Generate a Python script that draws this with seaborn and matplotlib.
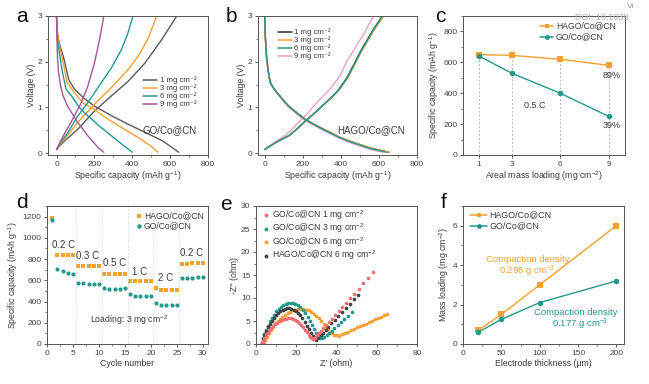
import numpy as np
import pandas as pd
import matplotlib
matplotlib.use("Agg")
import matplotlib.pyplot as plt
from matplotlib.ticker import AutoMinorLocator, MultipleLocator
import seaborn as sns

# ---------------- data ----------------
# panel a : GO/Co@CN charge / discharge (capacity mAh/g, voltage V)
a_loads = ["1 mg cm\u207b\u00b2", "3 mg cm\u207b\u00b2", "6 mg cm\u207b\u00b2", "9 mg cm\u207b\u00b2"]
a_dis_cap = [
    [0, 5, 15, 40, 65, 95, 145, 200, 290, 380, 470, 560, 645],
    [0, 5, 15, 35, 55, 90, 140, 200, 280, 360, 440, 500, 535],
    [0, 5, 15, 30, 50, 80, 120, 170, 230, 290, 350, 400],
    [0, 2, 5, 10, 20, 35, 58, 85, 112, 140, 165, 195, 220, 250],
]
a_dis_v = [
    [3.0, 2.6, 2.4, 2.05, 1.6, 1.4, 1.2, 1.03, 0.82, 0.63, 0.45, 0.27, 0.02],
    [3.0, 2.6, 2.35, 2.0, 1.55, 1.35, 1.1, 0.95, 0.72, 0.52, 0.32, 0.15, 0.02],
    [3.0, 2.5, 2.2, 1.8, 1.4, 1.25, 1.0, 0.8, 0.58, 0.38, 0.18, 0.02],
    [3.0, 2.5, 2.1, 1.8, 1.5, 1.25, 1.03, 0.85, 0.67, 0.52, 0.38, 0.24, 0.12, 0.02],
]
a_chg_cap = [
    [0, 20, 60, 112, 200, 289, 378, 467, 555, 635],
    [0, 20, 60, 112, 200, 289, 378, 431, 484, 529],
    [0, 20, 60, 112, 165, 236, 289, 342, 375, 404],
    [0, 20, 45, 76, 105, 130, 165, 200, 227, 250],
]
a_chg_v = [
    [0.08, 0.18, 0.33, 0.52, 0.92, 1.25, 1.57, 1.97, 2.48, 3.0],
    [0.08, 0.2, 0.4, 0.67, 1.07, 1.43, 1.83, 2.12, 2.51, 3.0],
    [0.08, 0.22, 0.45, 0.81, 1.1, 1.54, 1.86, 2.26, 2.6, 3.0],
    [0.08, 0.25, 0.45, 0.67, 0.9, 1.1, 1.46, 1.97, 2.48, 3.0],
]

# panel b : HAGO/Co@CN
b_dis_cap = [
    [0, 4, 10, 17, 24, 32, 50, 74, 100, 126, 170, 213, 260, 301, 350, 389, 430, 476, 520, 564, 610, 652],
    [0, 4, 10, 17, 24, 32, 50, 74, 100, 127, 171, 214, 261, 303, 352, 391, 432, 478, 522, 566, 612, 655],
    [0, 4, 10, 17, 24, 32, 50, 74, 100, 126, 169, 212, 258, 299, 347, 385, 425, 470, 513, 556, 600, 640],
    [0, 4, 10, 17, 24, 32, 50, 72, 97, 122, 165, 207, 253, 293, 340, 378, 418, 462, 505, 548, 590, 622],
]
b_dis_v = [
    [3.0, 2.5, 2.1, 1.85, 1.65, 1.52, 1.4, 1.28, 1.15, 1.03, 0.88, 0.74, 0.63, 0.54, 0.44, 0.36, 0.29, 0.22, 0.16, 0.1, 0.06, 0.02],
    [3.0, 2.5, 2.1, 1.85, 1.65, 1.52, 1.4, 1.28, 1.15, 1.03, 0.88, 0.74, 0.63, 0.54, 0.44, 0.36, 0.29, 0.22, 0.16, 0.1, 0.06, 0.02],
    [3.0, 2.5, 2.1, 1.85, 1.65, 1.52, 1.4, 1.28, 1.15, 1.03, 0.88, 0.74, 0.63, 0.54, 0.44, 0.36, 0.29, 0.22, 0.16, 0.1, 0.06, 0.02],
    [3.0, 2.5, 2.1, 1.85, 1.65, 1.52, 1.4, 1.27, 1.14, 1.02, 0.87, 0.73, 0.62, 0.53, 0.43, 0.35, 0.28, 0.21, 0.15, 0.09, 0.05, 0.02],
]
b_chg_cap = [
    [0, 30, 70, 126, 170, 213, 260, 301, 350, 389, 432, 476, 500, 529, 570, 618],
    [0, 30, 70, 127, 172, 215, 262, 304, 353, 393, 437, 481, 505, 535, 576, 625],
    [0, 30, 70, 126, 170, 213, 261, 302, 351, 391, 434, 478, 502, 531, 572, 620],
    [0, 25, 60, 105, 145, 185, 225, 257, 300, 340, 370, 397, 430, 460, 490, 520, 545, 572],
]
b_chg_v = [
    [0.08, 0.16, 0.26, 0.38, 0.53, 0.7, 0.87, 1.03, 1.22, 1.39, 1.65, 2.0, 2.2, 2.41, 2.7, 3.0],
    [0.08, 0.16, 0.26, 0.38, 0.53, 0.7, 0.87, 1.03, 1.22, 1.39, 1.65, 2.0, 2.2, 2.41, 2.7, 3.0],
    [0.08, 0.16, 0.26, 0.38, 0.53, 0.7, 0.87, 1.03, 1.22, 1.39, 1.65, 2.0, 2.2, 2.41, 2.7, 3.0],
    [0.08, 0.16, 0.26, 0.38, 0.53, 0.7, 0.87, 1.03, 1.22, 1.39, 1.55, 1.7, 2.0, 2.2, 2.41, 2.6, 2.8, 3.0],
]

# panel c : capacity vs areal loading
c_loading = [1, 3, 6, 9]
c_hago = [650, 645, 620, 580]
c_go = [640, 530, 400, 250]

# panel d : rate performance
d_cycle = list(range(1, 31))
d_hago = [1190, 840, 838, 836, 836, 735, 735, 733, 733, 733,
          655, 655, 655, 655, 655, 592, 590, 590, 590, 590,
          525, 510, 507, 505, 505, 752, 757, 760, 763, 765]
d_go = [1170, 702, 685, 670, 662, 578, 572, 568, 566, 562,
        532, 518, 514, 514, 525, 472, 455, 452, 450, 450,
        385, 370, 366, 366, 366, 620, 622, 626, 628, 632]
d_rates = ["0.2 C", "0.3 C", "0.5 C", "1 C", "2 C", "0.2 C"]

# panel e : Nyquist plots (Z' , -Z'')
e_labels = ["GO/Co@CN 1 mg cm$^{-2}$", "GO/Co@CN 3 mg cm$^{-2}$",
            "GO/Co@CN 6 mg cm$^{-2}$", "HAGO/Co@CN 6 mg cm$^{-2}$"]
e_red_x = [3.0, 3.5, 4.2, 5.0, 5.8, 6.7, 7.6, 8.6, 9.6, 10.6, 11.7, 12.8, 13.9, 15.0, 16.1, 17.2, 18.3, 19.4,
           20.5, 21.5, 22.5, 23.5, 24.4, 25.3, 26.2, 27.0, 27.8, 28.5,
           29.3, 30.2, 31.2, 32.3, 33.5, 34.8, 36.2, 37.7, 39.3, 41.0, 42.8, 44.7, 46.7, 48.8, 51.0, 53.3, 55.6, 58.0]
e_red_y = [0.2, 0.7, 1.3, 1.9, 2.5, 3.0, 3.5, 3.9, 4.3, 4.6, 4.9, 5.15, 5.35, 5.5, 5.55, 5.55, 5.45, 5.25,
           4.95, 4.6, 4.15, 3.65, 3.1, 2.55, 2.0, 1.55, 1.2, 1.0,
           1.4, 1.85, 2.3, 2.85, 3.45, 4.1, 4.8, 5.5, 6.3, 7.1, 8.0, 8.9, 9.9, 10.9, 12.0, 13.2, 14.3, 15.6]
e_teal_x = [3.0, 3.5, 4.2, 5.0, 5.9, 6.9, 7.9, 9.0, 10.1, 11.2, 12.4, 13.6, 14.8, 16.0, 17.2, 18.4, 19.6, 20.8,
            22.0, 23.2, 24.4, 25.6, 26.8, 27.9, 29.0, 30.0, 31.0, 32.0, 33.0,
            34.0, 35.1, 36.3, 37.6, 39.0, 40.5, 42.1, 43.8, 45.7, 47.7]
e_teal_y = [0.3, 1.2, 2.2, 3.1, 4.0, 4.9, 5.7, 6.4, 7.1, 7.6, 8.1, 8.5, 8.8, 8.95, 9.0, 8.95, 8.75, 8.45,
            8.0, 7.4, 6.7, 5.9, 5.0, 4.1, 3.2, 2.5, 1.9, 1.4, 1.2,
            1.55, 2.0, 2.4, 2.9, 3.5, 4.1, 4.7, 5.4, 6.1, 6.9]
e_orange_x = [4.0, 4.6, 5.4, 6.3, 7.3, 8.4, 9.5, 10.7, 11.9, 13.1, 14.4, 15.7, 17.0, 18.3, 19.6, 20.9, 22.2,
              23.5, 24.8, 26.1, 27.4, 28.7, 30.0, 31.2, 32.4, 33.6, 34.8, 35.9, 37.0, 38.0, 39.0, 40.0, 41.0,
              42.5, 44.0, 45.5, 47.0, 48.5, 50.0, 51.5, 53.0, 54.5, 56.0, 57.5, 59.0, 60.5, 62.0, 63.5, 65.0]
e_orange_y = [0.3, 0.9, 1.6, 2.3, 3.0, 3.7, 4.3, 4.9, 5.4, 5.9, 6.3, 6.7, 7.0, 7.3, 7.5, 7.65, 7.7,
              7.65, 7.5, 7.3, 7.0, 6.6, 6.1, 5.6, 5.0, 4.4, 3.8, 3.2, 2.7, 2.3, 2.0, 1.85, 1.8,
              2.1, 2.4, 2.7, 3.0, 3.3, 3.6, 3.85, 4.15, 4.45, 4.75, 5.05, 5.35, 5.65, 5.95, 6.25, 6.5]
e_black_x = [3.0, 3.5, 4.2, 5.0, 5.9, 6.8, 7.8, 8.8, 9.9, 11.0, 12.1, 13.2, 14.3, 15.4, 16.5, 17.6, 18.7, 19.8,
             20.9, 22.0, 23.1, 24.2, 25.3, 26.3, 27.3, 28.2, 29.1, 30.0,
             31.0, 32.1, 33.3, 34.6, 36.0, 37.5, 39.1, 40.8, 42.6, 44.5, 46.5, 48.6, 50.8]
e_black_y = [0.3, 1.1, 2.0, 2.8, 3.6, 4.3, 5.0, 5.6, 6.2, 6.7, 7.1, 7.4, 7.65, 7.8, 7.8, 7.7, 7.5, 7.2,
             6.75, 6.2, 5.55, 4.8, 4.0, 3.2, 2.5, 1.8, 1.25, 0.95,
             1.4, 1.95, 2.5, 3.1, 3.8, 4.5, 5.2, 6.0, 6.9, 7.8, 8.7, 9.7, 10.6]

# panel f : mass loading vs electrode thickness
f_thick = [20, 50, 100, 200]
f_hago = [0.7, 1.5, 3.0, 6.0]
f_go = [0.6, 1.25, 2.1, 3.2]

# ---------------- style ----------------
sns.set_style("ticks")
plt.rcParams["font.family"] = ["Liberation Sans", "DejaVu Sans"]
plt.rcParams["mathtext.fontset"] = "custom"
plt.rcParams["mathtext.rm"] = "Liberation Sans"
plt.rcParams["mathtext.it"] = "Liberation Sans"
txt = "#3a3a3a"
plt.rcParams.update({"text.color": txt, "axes.labelcolor": txt,
                     "xtick.color": "#444444", "ytick.color": "#444444",
                     "axes.edgecolor": "#555555", "axes.linewidth": 0.7})

GRAY = "#5a5a5a"
BLACK = "#2b2b2b"
ORANGE = "#F5A031"
TEAL = "#23998E"
PURPLE = "#A8559A"
PINK = "#E6A2CC"
RED = "#EE6F73"

W, H = 649, 384
fig = plt.figure(figsize=(W / 100, H / 100), dpi=100)


def box(l, t, r, b):
    return [l / W, 1 - b / H, (r - l) / W, (b - t) / H]


def style(ax, xlabel, ylabel):
    ax.set_xlabel(xlabel, fontsize=6.3, labelpad=1.5)
    ax.set_ylabel(ylabel, fontsize=6.3, labelpad=1.5)
    ax.tick_params(which="major", direction="out", length=2.5, width=0.6, labelsize=6, pad=1.5)
    ax.tick_params(which="minor", direction="out", length=1.4, width=0.5)
    ax.xaxis.set_minor_locator(AutoMinorLocator(2))
    ax.yaxis.set_minor_locator(AutoMinorLocator(2))
    for s in ax.spines.values():
        s.set_visible(True)
    if ax.get_legend() is not None:
        ax.get_legend().remove()


def key(ax, bx, labels, colors, ys, x0, x1, tx, fs=6, line=True, marker=None, ms=3.5):
    # legend drawn by hand, positions in figure pixels
    l, t, r, b = bx
    fx = lambda p: (p - l) / (r - l)
    fy = lambda p: (b - p) / (b - t)
    for lab, col, y in zip(labels, colors, ys):
        if line:
            ax.plot([fx(x0), fx(x1)], [fy(y), fy(y)], color=col, lw=1.1,
                    transform=ax.transAxes, clip_on=False)
        if marker:
            ax.plot([fx((x0 + x1) / 2)], [fy(y)], color=col, marker=marker, ms=ms, mew=0,
                    ls="", transform=ax.transAxes, clip_on=False)
        ax.text(fx(tx), fy(y), lab, fontsize=fs, ha="left", va="center", transform=ax.transAxes)


def letter(x, y, s):
    fig.text(x / W, 1 - y / H, s, fontsize=15, color="#111111", va="center", ha="left")


# ---- a ----
bx = (48, 16, 208, 155)
ax = fig.add_axes(box(*bx))
a_cols = [GRAY, ORANGE, TEAL, PURPLE]
for i in range(4):
    sns.lineplot(x=a_dis_cap[i], y=a_dis_v[i], ax=ax, color=a_cols[i], lw=1.0, sort=False)
    sns.lineplot(x=a_chg_cap[i], y=a_chg_v[i], ax=ax, color=a_cols[i], lw=1.0, sort=False)
ax.set_xlim(-45, 800)
ax.set_ylim(-0.04, 3)
ax.xaxis.set_major_locator(MultipleLocator(200))
ax.yaxis.set_major_locator(MultipleLocator(1))
style(ax, "Specific capacity (mAh g$^{-1}$)", "Voltage (V)")
key(ax, bx, a_loads, a_cols, [80, 88, 96, 104], 143, 157, 160, fs=5.6)
ax.text(0.59, 0.18, "GO/Co@CN", transform=ax.transAxes, fontsize=7, ha="left", va="center")
letter(16, 17, "a")

# ---- b ----
bx = (258, 16, 417, 155)
ax = fig.add_axes(box(*bx))
b_cols = [BLACK, ORANGE, TEAL, PINK]
for i in [3, 0, 1, 2]:
    sns.lineplot(x=b_dis_cap[i], y=b_dis_v[i], ax=ax, color=b_cols[i], lw=1.0, sort=False)
    sns.lineplot(x=b_chg_cap[i], y=b_chg_v[i], ax=ax, color=b_cols[i], lw=1.0, sort=False)
ax.set_xlim(-35, 800)
ax.set_ylim(-0.04, 3)
ax.xaxis.set_major_locator(MultipleLocator(200))
ax.yaxis.set_major_locator(MultipleLocator(1))
style(ax, "Specific capacity (mAh g$^{-1}$)", "Voltage (V)")
key(ax, bx, a_loads, b_cols, [32, 40, 48, 56], 278, 292, 294, fs=5.6)
ax.text(0.5, 0.18, "HAGO/Co@CN", transform=ax.transAxes, fontsize=7, ha="left", va="center")
letter(226, 17, "b")

# ---- c ----
bx = (463, 16, 625, 155)
ax = fig.add_axes(box(*bx))
ax.vlines(c_loading, 0, c_hago, colors="#b5b5b5", linestyles=(0, (2, 2)), lw=0.7)
sns.lineplot(x=c_loading, y=c_hago, ax=ax, color=ORANGE, marker="s", markersize=4, markeredgewidth=0, lw=1.0)
sns.lineplot(x=c_loading, y=c_go, ax=ax, color=TEAL, marker="o", markersize=4, markeredgewidth=0, lw=1.0)
ax.set_xlim(0, 10)
ax.set_ylim(0, 900)
ax.set_xticks(c_loading)
ax.yaxis.set_major_locator(MultipleLocator(200))
style(ax, "Areal mass loading (mg cm$^{-2}$)", "Specific capacity (mAh g$^{-1}$)")
ax.xaxis.set_minor_locator(plt.NullLocator())
key(ax, bx, ["HAGO/Co@CN", "GO/Co@CN"], [ORANGE, TEAL], [26, 37], 540, 553, 556, fs=6.2, marker="s")
ax.lines[-1].set_marker("o")
ax.text(9.2, 512, "89%", fontsize=6.5, ha="center", va="center")
ax.text(9.2, 192, "39%", fontsize=6.5, ha="center", va="center")
ax.text(4.4, 320, "0.5 C", fontsize=6.5, ha="center", va="center")
letter(435, 17, "c")

# ---- d ----
bx = (47, 206, 208, 344)
ax = fig.add_axes(box(*bx))
for xv in [5.5, 10.5, 15.5, 20.5, 25.5]:
    ax.axvline(xv, color="#d8d8d8", lw=0.6, ls=(0, (2, 2)))
sns.scatterplot(x=d_cycle, y=d_hago, ax=ax, color=ORANGE, marker="s", s=9, linewidth=0)
sns.scatterplot(x=d_cycle, y=d_go, ax=ax, color=TEAL, marker="o", s=9, linewidth=0)
ax.set_xlim(0, 31)
ax.set_ylim(0, 1300)
ax.xaxis.set_major_locator(MultipleLocator(5))
ax.yaxis.set_major_locator(MultipleLocator(200))
style(ax, "Cycle number", "Specific capacity (mAh g$^{-1}$)")
key(ax, bx, ["HAGO/Co@CN", "GO/Co@CN"], [ORANGE, TEAL], [216, 226], 139, 139, 144,
    fs=6.2, line=False, marker="s", ms=3.2)
ax.lines[-1].set_marker("o")
for xv, yv, s in zip([3.2, 7.8, 13.0, 17.8, 22.9, 27.8], [930, 828, 762, 680, 622, 858], d_rates):
    ax.text(xv, yv, s, fontsize=7, ha="center", va="center")
ax.text(15.8, 220, "Loading: 3 mg cm$^{-2}$", fontsize=6.3, ha="center", va="center")
letter(16, 202, "d")

# ---- e ----
bx = (256, 206, 417, 344)
ax = fig.add_axes(box(*bx))
e_x = [e_red_x, e_teal_x, e_orange_x, e_black_x]
e_y = [e_red_y, e_teal_y, e_orange_y, e_black_y]
e_cols = [RED, TEAL, ORANGE, "#444444"]
for i in [2, 1, 3, 0]:
    sns.scatterplot(x=e_x[i], y=e_y[i], ax=ax, color=e_cols[i], s=7, linewidth=0)
ax.set_xlim(0, 80)
ax.set_ylim(0, 30)
ax.xaxis.set_major_locator(MultipleLocator(20))
ax.yaxis.set_major_locator(MultipleLocator(5))
style(ax, "Z' (ohm)", "-Z'' (ohm)")
key(ax, bx, e_labels, e_cols, [215, 228.5, 242, 255.5], 266, 266, 272,
    fs=6.2, line=False, marker="o", ms=2.8)
letter(220, 204, "e")

# ---- f ----
bx = (463, 206, 624, 344)
ax = fig.add_axes(box(*bx))
sns.lineplot(x=f_thick, y=f_hago, ax=ax, color=ORANGE, marker="s", markersize=4, markeredgewidth=0, lw=1.0)
sns.lineplot(x=f_thick, y=f_go, ax=ax, color=TEAL, marker="o", markersize=4, markeredgewidth=0, lw=1.0)
ax.set_xlim(0, 210)
ax.set_ylim(0, 7)
ax.xaxis.set_major_locator(MultipleLocator(50))
ax.yaxis.set_major_locator(MultipleLocator(2))
style(ax, "Electrode thickness (\u03bcm)", "Mass loading (mg cm$^{-2}$)")
key(ax, bx, ["HAGO/Co@CN", "GO/Co@CN"], [ORANGE, TEAL], [215, 225.5], 470, 487, 489, fs=6.4, marker="s")
ax.lines[-1].set_marker("o")
ax.text(84, 4.3, "Compaction density", color=ORANGE, fontsize=6.8, ha="center", va="center")
ax.text(84, 3.7, "0.298 g cm$^{-3}$", color=ORANGE, fontsize=6.8, ha="center", va="center")
ax.text(147, 1.6, "Compaction density", color=TEAL, fontsize=6.8, ha="center", va="center")
ax.text(153, 0.98, "0.177 g cm$^{-3}$", color=TEAL, fontsize=6.8, ha="center", va="center")
letter(441, 202, "f")

# faint page marks in the corner
fig.text(627 / W, 1 - 7 / H, "Vi", fontsize=6, color="#9a9a9a", va="center", ha="left")
fig.text(575 / W, 1 - 18 / H, "DOI: 10.1039", fontsize=6.5, color="#b0b0b0", va="center", ha="left")

fig.savefig("out.png", dpi=100)
